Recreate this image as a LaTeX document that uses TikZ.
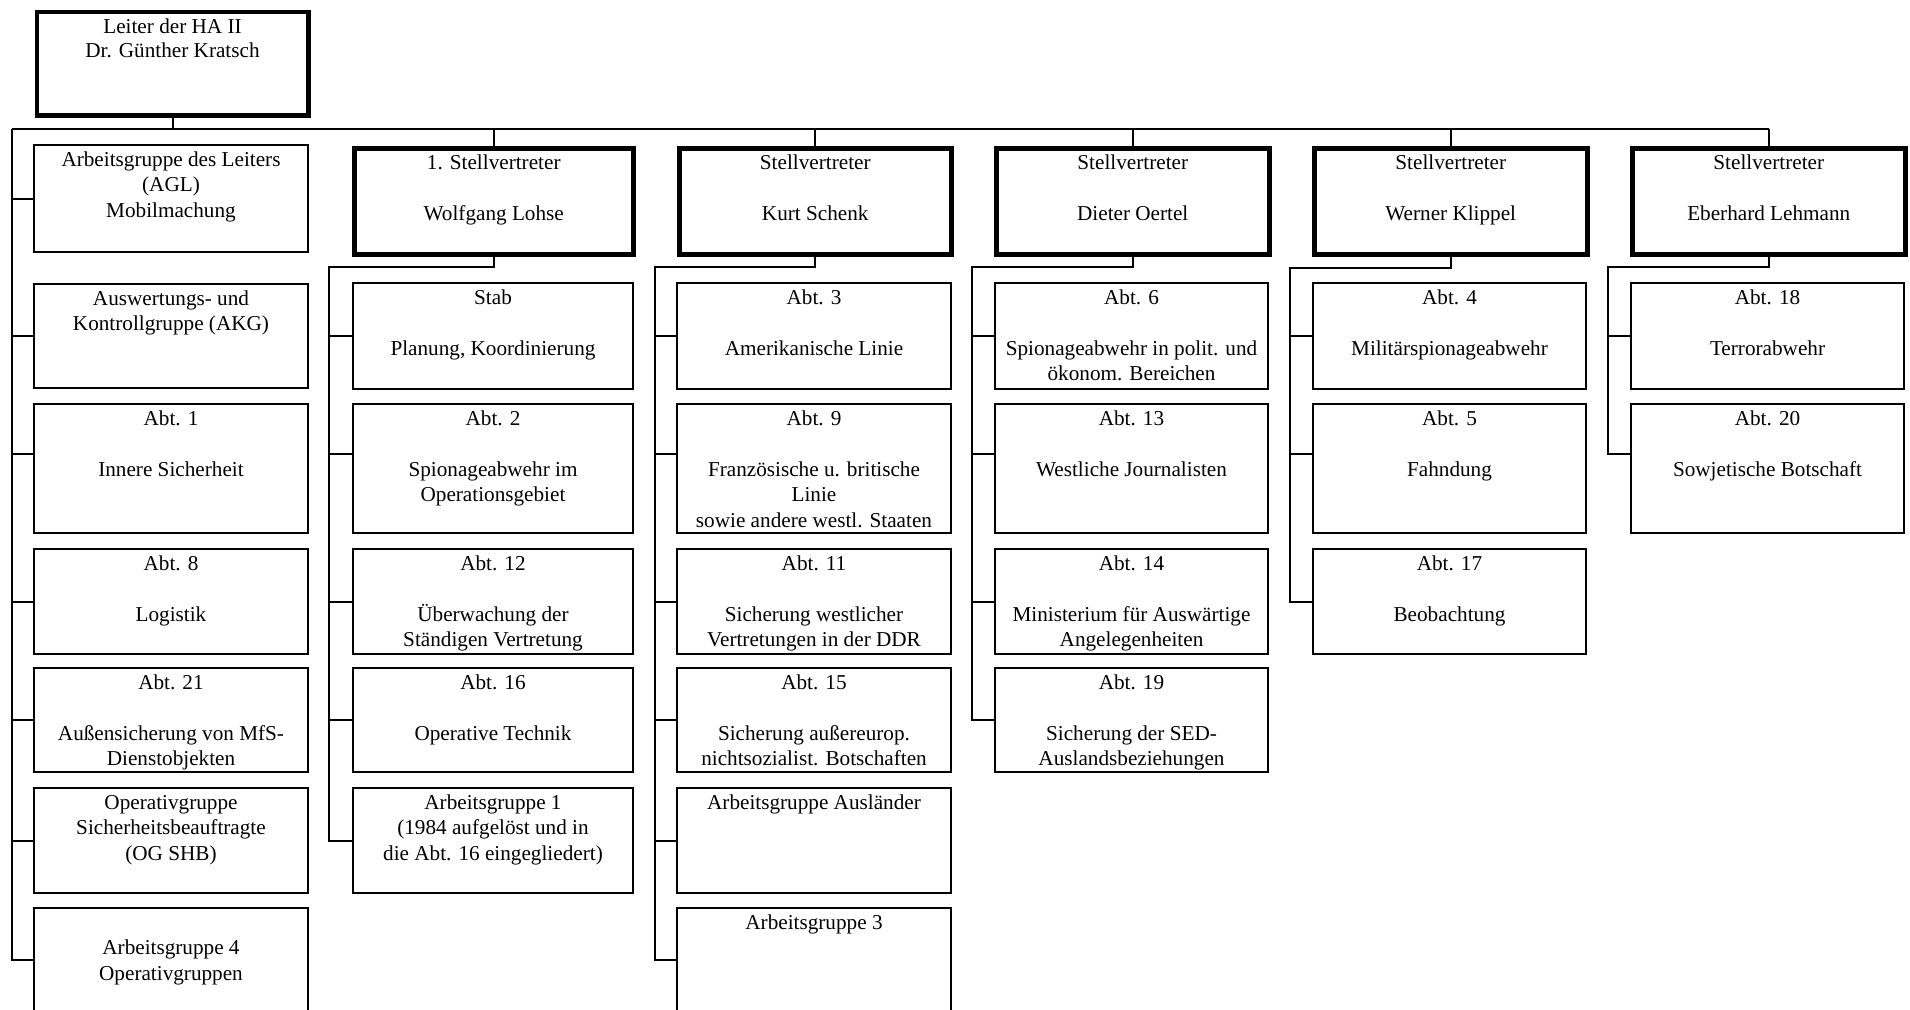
\documentclass[tikz,border=0pt]{standalone}
\usepackage{fontspec}
\setmainfont{Liberation Serif}
\newcommand\boxfont{\fontsize{21.2}{25.5}\selectfont}
\newcommand\leadfont{\fontsize{21.2}{24}\selectfont}
\newcommand\gapline{\\\mbox{}\\}
\newcommand\boxtext[3]{\parbox[t][#2][t]{#1}{\centering\rule{0pt}{21pt}#3}}
\tikzset{
  obox/.style={draw, line width=2pt, inner sep=0pt, anchor=north west, font=\boxfont},
  hbox/.style={obox, line width=4.5pt},
  conn/.style={draw, line width=2pt},
}
\begin{document}
\begin{tikzpicture}[x=1pt, y=-1pt]
\useasboundingbox (0,0) rectangle (1910,1009);
\clip (0,0) rectangle (1910,1009);

% leader
\node[hbox, font=\leadfont] (lead) at (34.5,9.5) {\parbox[t][103.5pt][t]{271.5pt}{\centering\rule{0pt}{22pt}Leiter der HA II\\Dr. Günther Kratsch}};

% deputies
\node[hbox] (d2) at (352,146) {\boxtext{279pt}{106pt}{1. Stellvertreter\gapline Wolfgang Lohse}};
\node[hbox] (d3) at (677,146) {\boxtext{272pt}{106pt}{Stellvertreter\gapline Kurt Schenk}};
\node[hbox] (d4) at (994,146) {\boxtext{273pt}{106pt}{Stellvertreter\gapline Dieter Oertel}};
\node[hbox] (d5) at (1312,146) {\boxtext{273pt}{106pt}{Stellvertreter\gapline Werner Klippel}};
\node[hbox] (d6) at (1630,146) {\boxtext{273pt}{106pt}{Stellvertreter\gapline Eberhard Lehmann}};

% column 1
\node[obox] (agl) at (33,144) {\boxtext{274pt}{107pt}{Arbeitsgruppe des Leiters\\(AGL)\\Mobilmachung}};
\node[obox] (ausw) at (33,283) {\boxtext{274pt}{104pt}{Auswertungs- und\\Kontrollgruppe (AKG)}};
\node[obox] (abt1) at (33,403) {\boxtext{274pt}{129pt}{Abt. 1\gapline Innere Sicherheit}};
\node[obox] (abt8) at (33,548) {\boxtext{274pt}{105pt}{Abt. 8\gapline Logistik}};
\node[obox] (abt21) at (33,667) {\boxtext{274pt}{104pt}{Abt. 21\gapline Außensicherung von MfS-\\Dienstobjekten}};
\node[obox] (og) at (33,787) {\boxtext{274pt}{105pt}{Operativgruppe\\Sicherheitsbeauftragte\\(OG SHB)}};
\node[obox] (ag4) at (33,907) {\boxtext{274pt}{104pt}{\mbox{}\\Arbeitsgruppe 4\\Operativgruppen}};

% column 2
\node[obox] (stab) at (352,282) {\boxtext{280pt}{106pt}{Stab\gapline Planung, Koordinierung}};
\node[obox] (abt2) at (352,403) {\boxtext{280pt}{129pt}{Abt. 2\gapline Spionageabwehr im\\Operationsgebiet}};
\node[obox] (abt12) at (352,548) {\boxtext{280pt}{105pt}{Abt. 12\gapline Überwachung der\\Ständigen Vertretung}};
\node[obox] (abt16) at (352,667) {\boxtext{280pt}{104pt}{Abt. 16\gapline Operative Technik}};
\node[obox] (ag1) at (352,787) {\boxtext{280pt}{105pt}{Arbeitsgruppe 1\\(1984 aufgelöst und in\\die Abt. 16 eingegliedert)}};

% column 3
\node[obox] (abt3) at (676,282) {\boxtext{274pt}{106pt}{Abt. 3\gapline Amerikanische Linie}};
\node[obox] (abt9) at (676,403) {\boxtext{274pt}{129pt}{Abt. 9\gapline Französische u. britische\\Linie\\sowie andere westl. Staaten}};
\node[obox] (abt11) at (676,548) {\boxtext{274pt}{105pt}{Abt. 11\gapline Sicherung westlicher\\Vertretungen in der DDR}};
\node[obox] (abt15) at (676,667) {\boxtext{274pt}{104pt}{Abt. 15\gapline Sicherung außereurop.\\nichtsozialist. Botschaften}};
\node[obox] (aga) at (676,787) {\boxtext{274pt}{105pt}{Arbeitsgruppe Ausländer}};
\node[obox] (ag3) at (676,907) {\boxtext{274pt}{104pt}{Arbeitsgruppe 3}};

% column 4
\node[obox] (abt6) at (994,282) {\boxtext{273pt}{106pt}{Abt. 6\gapline Spionageabwehr in polit. und\\ökonom. Bereichen}};
\node[obox] (abt13) at (994,403) {\boxtext{273pt}{129pt}{Abt. 13\gapline Westliche Journalisten}};
\node[obox] (abt14) at (994,548) {\boxtext{273pt}{105pt}{Abt. 14\gapline Ministerium für Auswärtige\\Angelegenheiten}};
\node[obox] (abt19) at (994,667) {\boxtext{273pt}{104pt}{Abt. 19\gapline Sicherung der SED-\\Auslandsbeziehungen}};

% column 5
\node[obox] (abt4) at (1312,282) {\boxtext{273pt}{106pt}{Abt. 4\gapline Militärspionageabwehr}};
\node[obox] (abt5) at (1312,403) {\boxtext{273pt}{129pt}{Abt. 5\gapline Fahndung}};
\node[obox] (abt17) at (1312,548) {\boxtext{273pt}{105pt}{Abt. 17\gapline Beobachtung}};

% column 6
\node[obox] (abt18) at (1630,282) {\boxtext{273pt}{106pt}{Abt. 18\gapline Terrorabwehr}};
\node[obox] (abt20) at (1630,403) {\boxtext{273pt}{129pt}{Abt. 20\gapline Sowjetische Botschaft}};

% connection points for the taller second-row boxes
\foreach \b in {abt1,abt2,abt9,abt13,abt5,abt20}
  \coordinate (\b c) at ([yshift=-51pt]\b.north west);

% main bus
\coordinate (bus) at (12,129);
\draw[conn] (bus) -- (d6.north |- bus);
\draw[conn] (lead.south) -- (lead.south |- bus);
\foreach \d in {d2,d3,d4,d5,d6}
  \draw[conn] (\d.north |- bus) -- (\d.north);

% column 1 connectors
\draw[conn] (bus) |- (ag4.west);
\foreach \b in {agl,ausw,abt8,abt21,og}
  \draw[conn] (\b.west -| bus) -- (\b.west);
\draw[conn] (abt1c -| bus) -- (abt1c);

% column 2
\coordinate (k2) at (329,267);
\draw[conn] (d2.south) |- (k2) |- (ag1.west);
\foreach \b in {stab,abt12,abt16}
  \draw[conn] (k2 |- \b.west) -- (\b.west);
\draw[conn] (k2 |- abt2c) -- (abt2c);

% column 3
\coordinate (k3) at (655,267);
\draw[conn] (d3.south) |- (k3) |- (ag3.west);
\foreach \b in {abt3,abt11,abt15,aga}
  \draw[conn] (k3 |- \b.west) -- (\b.west);
\draw[conn] (k3 |- abt9c) -- (abt9c);

% column 4
\coordinate (k4) at (972,267);
\draw[conn] (d4.south) |- (k4) |- (abt19.west);
\foreach \b in {abt6,abt14}
  \draw[conn] (k4 |- \b.west) -- (\b.west);
\draw[conn] (k4 |- abt13c) -- (abt13c);

% column 5
\coordinate (k5) at (1290,268);
\draw[conn] (d5.south) |- (k5) |- (abt17.west);
\draw[conn] (k5 |- abt4.west) -- (abt4.west);
\draw[conn] (k5 |- abt5c) -- (abt5c);

% column 6
\coordinate (k6) at (1608,267);
\draw[conn] (d6.south) |- (k6) |- (abt20c);
\draw[conn] (k6 |- abt18.west) -- (abt18.west);
\end{tikzpicture}
\end{document}
